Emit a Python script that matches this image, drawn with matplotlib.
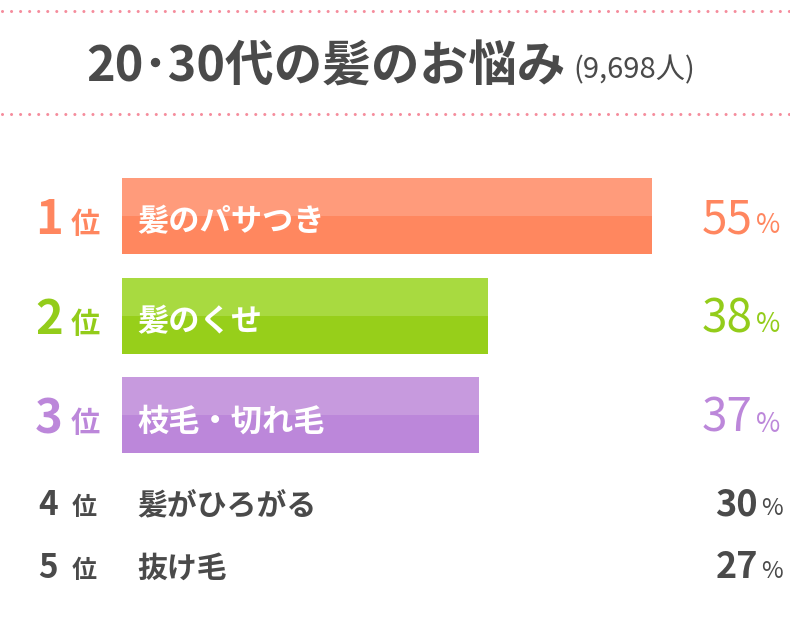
import numpy as np
import matplotlib.pyplot as plt

plt.rcParams['font.family'] = ['Noto Sans CJK JP', 'DejaVu Sans']

# ==== データ ====
title = "20･30代の髪のお悩み"
subtitle = "(9,698人)"
ranks = ["1", "2", "3", "4", "5"]
labels = ["髪のパサつき", "髪のくせ", "枝毛・切れ毛", "髪がひろがる", "抜け毛"]
values = [55, 38, 37, 30, 27]

# ==== 色 ====
bar_light = ["#FF9B7B", "#A8DA40", "#C79ADE"]
bar_dark = ["#FF875F", "#97CF1A", "#BC87DA"]
rank_colors = ["#FF865F", "#93CC1A", "#BC87DA"]
gray = "#4A4A4A"
pink = "#F58C9C"

fig = plt.figure(figsize=(7.9, 6.2), dpi=100)
fig.patch.set_facecolor("white")

# ==== 上位3つの棒 ====
n_top = 3
bx = fig.add_axes([122 / 790, (620 - 464.75) / 620, 668 / 790, 298.5 / 620])
bx.set_xlim(0, 668 / (530 / 55))
bx.set_ylim(n_top - 0.5, -0.5)
bx.axis("off")

h = 76 / 99.5
ypos = np.arange(n_top)
bx.barh(ypos, values[:n_top], height=h, color=bar_dark, left=0)
bx.barh(ypos - h / 4, values[:n_top], height=h / 2, color=bar_light, left=0)

# 文字用の座標系（ピクセル）、棒の上に重ねる
ax = fig.add_axes([0, 0, 1, 1])
ax.set_xlim(0, 790)
ax.set_ylim(620, 0)
ax.patch.set_alpha(0)
ax.axis("off")
ax.set_zorder(5)

# ==== 点線 ====
for yy in [11, 114]:
    ax.plot([2, 790], [yy, yy], color=pink, lw=2.2,
            linestyle=(0, (0.01, 2.95)), dash_capstyle="round")

# ==== タイトル ====
ax.text(86, 82, title, fontsize=35, fontweight="bold", color=gray,
        ha="left", va="baseline")
ax.text(573, 78, subtitle, fontsize=21, color=gray, ha="left", va="baseline")

row_y = [216 + i * 99.5 for i in range(n_top)]
for i in range(n_top):
    cy = row_y[i]
    c = rank_colors[i]
    ax.text(63, cy + 18, ranks[i], fontsize=34, fontweight="bold", color=c,
            ha="right", va="baseline")
    ax.text(71, cy + 17, "位", fontsize=21, fontweight="bold", color=c,
            ha="left", va="baseline")
    ax.text(137, cy + 3, labels[i], fontsize=22.5, fontweight="bold",
            color="white", ha="left", va="center_baseline")
    ax.text(753, cy + 17, str(values[i]), fontsize=33, color=c,
            ha="right", va="baseline")
    ax.text(756, cy + 17, "%", fontsize=19, color=c,
            ha="left", va="baseline")

# ==== 4位・5位 ====
low_y = [515, 578]
for j, i in enumerate(range(n_top, len(ranks))):
    by = low_y[j]
    ax.text(58, by, ranks[i], fontsize=24, fontweight="bold", color=gray,
            ha="right", va="baseline")
    ax.text(72, by, "位", fontsize=18, fontweight="bold", color=gray,
            ha="left", va="baseline")
    ax.text(137, by, labels[i], fontsize=21.5, fontweight="bold", color=gray,
            ha="left", va="baseline")
    ax.text(758, by, str(values[i]), fontsize=26, fontweight="bold", color=gray,
            ha="right", va="baseline")
    ax.text(761, by, "%", fontsize=17, color=gray, ha="left", va="baseline")

plt.savefig("out.png", dpi=100, facecolor="white")
